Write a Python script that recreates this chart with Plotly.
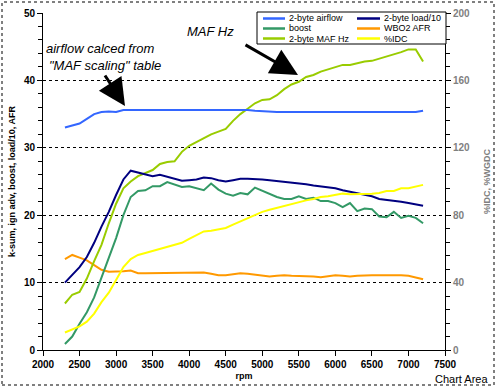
import plotly.graph_objects as go

rpm = [2300, 2400, 2500, 2600, 2700, 2800, 2900, 3000, 3100, 3200,
       3300, 3400, 3500, 3600, 3700, 3800, 3900, 4000, 4100, 4200,
       4300, 4400, 4500, 4600, 4700, 4800, 4900, 5000, 5100, 5200,
       5300, 5400, 5500, 5600, 5700, 5800, 5900, 6000, 6100, 6200,
       6300, 6400, 6500, 6600, 6700, 6800, 6900, 7000, 7100, 7200]

airflow = [33.0, 33.3, 33.6, 34.3, 35.0, 35.3, 35.4, 35.3, 35.6, 35.6,
           35.6, 35.6, 35.6, 35.6, 35.6, 35.6, 35.7, 35.6, 35.6, 35.6,
           35.6, 35.6, 35.6, 35.6, 35.6, 35.6, 35.5, 35.4, 35.3, 35.3,
           35.3, 35.3, 35.3, 35.3, 35.3, 35.3, 35.3, 35.3, 35.3, 35.3,
           35.3, 35.3, 35.3, 35.3, 35.3, 35.3, 35.3, 35.3, 35.3, 35.5]

load10 = [10.0, 11.2, 12.3, 13.8, 15.9, 18.3, 20.5, 23.0, 25.3, 26.6,
          26.3, 26.0, 25.8, 26.0, 25.7, 25.4, 25.1, 25.2, 25.3, 25.6,
          25.5, 25.2, 25.0, 25.2, 25.4, 25.4, 25.4, 25.3, 25.2, 25.1,
          24.9, 24.8, 24.7, 24.6, 24.4, 24.3, 24.2, 24.0, 23.7, 23.5,
          23.3, 23.1, 22.8, 22.4, 22.3, 22.2, 22.0, 21.8, 21.6, 21.4]

boost = [0.9, 2.0, 3.9, 5.6, 7.8, 10.8, 13.8, 16.6, 20.0, 22.7,
         23.6, 23.7, 24.3, 24.3, 24.9, 24.5, 24.2, 24.3, 24.0, 23.7,
         24.7, 23.8, 23.2, 22.9, 23.3, 23.1, 24.1, 23.6, 23.1, 22.7,
         22.4, 22.4, 22.8, 22.4, 22.6, 22.1, 22.1, 21.8, 21.2, 21.8,
         20.6, 21.0, 20.9, 19.8, 19.7, 20.5, 19.6, 19.9, 19.6, 18.8]

maf_hz = [6.9, 8.2, 8.6, 10.6, 13.2, 15.6, 18.8, 21.7, 24.0, 25.0,
          25.8, 26.2, 26.7, 27.6, 27.9, 28.0, 29.4, 30.3, 30.9, 31.4,
          32.0, 32.4, 32.8, 34.0, 35.0, 35.8, 36.6, 37.1, 37.2, 37.8,
          38.7, 39.4, 39.8, 40.5, 40.8, 41.3, 41.6, 42.0, 42.3, 42.3,
          42.6, 42.8, 42.9, 43.2, 43.5, 43.9, 44.2, 44.6, 44.6, 42.8]

wbo2_afr = [13.5, 14.1, 13.7, 13.3, 12.6, 11.9, 11.6, 11.6, 11.7, 11.8,
            11.4, 11.4, 11.4, 11.4, 11.4, 11.5, 11.4, 11.4, 11.5, 11.5,
            11.3, 11.1, 11.1, 11.3, 11.4, 11.3, 11.2, 11.0, 10.9, 11.0,
            11.1, 11.0, 11.0, 11.0, 10.9, 10.8, 11.0, 11.1, 11.0, 10.9,
            11.0, 11.1, 11.1, 11.1, 11.1, 11.2, 11.1, 11.0, 10.8, 10.5]

idc_pct = [10.4, 12.4, 14.0, 16.8, 21.6, 28.4, 34.0, 41.6, 49.2, 54.0,
           56.4, 57.6, 58.8, 60.0, 61.2, 62.4, 63.6, 66.0, 68.0, 70.4,
           70.8, 71.6, 72.4, 74.4, 76.4, 78.0, 80.4, 82.0, 83.2, 84.4,
           85.6, 86.4, 87.6, 88.8, 89.6, 90.8, 91.2, 92.0, 92.8, 92.4,
           92.4, 92.8, 92.8, 93.2, 94.4, 94.4, 96.0, 96.0, 96.8, 98.0]

series = [
    ("2-byte airflow", airflow, "#3366FF", "y"),
    ("boost", boost, "#339966", "y"),
    ("2-byte MAF Hz", maf_hz, "#99CC00", "y"),
    ("2-byte load/10", load10, "#000080", "y"),
    ("WBO2 AFR", wbo2_afr, "#FF9900", "y"),
    ("%IDC", idc_pct, "#FFFF00", "y2"),
]

FONT = "Arial, Liberation Sans, sans-serif"

fig = go.Figure()
draw_order = [4, 5, 2, 1, 3, 0]
for i in draw_order:
    name, vals, col, ax = series[i]
    fig.add_trace(go.Scatter(x=rpm, y=vals, name=name, mode="lines",
                             line=dict(color=col, width=2), yaxis=ax,
                             showlegend=False))

# plot area in pixels: x 43..445, y 13..350
L, R, T, B = 43, 445, 13, 350
W, H = R - L, B - T


def px(x):
    return (x - L) / W


def py(y):
    return (B - y) / H


shapes = []
annotations = []

# chart-area dotted border
shapes.append(dict(type="rect", xref="paper", yref="paper",
                   x0=px(2), x1=px(494), y0=py(385), y1=py(2),
                   line=dict(color="black", width=1, dash="dot")))

# legend box (manual, compact like the original)
shapes.append(dict(type="rect", xref="paper", yref="paper",
                   x0=px(257), x1=px(446), y0=py(44), y1=py(12),
                   fillcolor="white", line=dict(color="black", width=1),
                   layer="above"))
cols = [(263, 285, 287), (357, 380, 382)]
rows = [18.5, 28.5, 38.5]
for k, (name, vals, col, ax) in enumerate(series):
    c = cols[k // 3]
    r = rows[k % 3]
    shapes.append(dict(type="line", xref="paper", yref="paper",
                       x0=px(c[0]), x1=px(c[1]), y0=py(r), y1=py(r),
                       line=dict(color=col, width=2.5), layer="above"))
    annotations.append(dict(xref="paper", yref="paper", x=px(c[2]), y=py(r),
                            text=name, showarrow=False, xanchor="left",
                            yanchor="middle",
                            font=dict(family=FONT, size=9, color="black")))

# notes
annotations.append(dict(xref="paper", yref="paper", x=px(44), y=py(48),
                        text="<i>airflow calced from</i>", showarrow=False,
                        xanchor="left", yanchor="middle",
                        font=dict(family=FONT, size=13, color="black")))
annotations.append(dict(xref="paper", yref="paper", x=px(47), y=py(65),
                        text="<i>\"MAF scaling\" table</i>", showarrow=False,
                        xanchor="left", yanchor="middle",
                        font=dict(family=FONT, size=13, color="black")))
annotations.append(dict(xref="paper", yref="paper", x=px(185), y=py(32),
                        text="<i>MAF Hz</i>", showarrow=False,
                        xanchor="left", yanchor="middle",
                        font=dict(family=FONT, size=13, color="black")))
# arrows
annotations.append(dict(xref="paper", yref="paper", x=px(125), y=py(106),
                        ax=-21, ay=-32, text="", showarrow=True,
                        arrowhead=2, arrowsize=1.8, arrowwidth=3,
                        arrowcolor="black"))
annotations.append(dict(xref="paper", yref="paper", x=px(298), y=py(75),
                        ax=-54, ay=-31, text="", showarrow=True,
                        arrowhead=2, arrowsize=1.8, arrowwidth=3,
                        arrowcolor="black"))
# tooltip text
annotations.append(dict(xref="paper", yref="paper", x=px(490), y=py(379),
                        text="Chart Area", showarrow=False,
                        xanchor="right", yanchor="middle",
                        font=dict(family=FONT, size=11, color="black")))

tickfont = dict(family=FONT, size=10, color="black", weight="bold")
fig.update_layout(
    width=496, height=387,
    margin=dict(l=L, r=496 - R, t=T, b=387 - B, pad=0, autoexpand=False),
    paper_bgcolor="white", plot_bgcolor="white",
    showlegend=False, hovermode=False,
    shapes=shapes, annotations=annotations,
    xaxis=dict(range=[2000, 7500], dtick=500, tick0=2000, automargin=False,
               showline=True, linecolor="black", linewidth=1,
               ticks="outside", ticklen=5, tickcolor="black",
               showgrid=False, zeroline=False, tickfont=tickfont,
               title=dict(text="rpm", standoff=3,
                          font=dict(family=FONT, size=9, color="black",
                                    weight="bold"))),
    yaxis=dict(range=[0, 50], dtick=10, tick0=0, automargin=False,
               showline=True, linecolor="black", linewidth=1,
               ticks="outside", ticklen=5, tickcolor="black",
               minor=dict(dtick=2, ticks="outside", ticklen=4,
                          tickcolor="black", showgrid=False),
               showgrid=True, gridcolor="black", griddash="dot",
               gridwidth=1, zeroline=False, tickfont=tickfont,
               title=dict(text="k-sum, ign adv, boost, load/10, AFR",
                          standoff=6,
                          font=dict(family=FONT, size=9, color="black",
                                    weight="bold"))),
    yaxis2=dict(range=[0, 200], dtick=40, tick0=0, overlaying="y",
                automargin=False,
                side="right", showline=True, linecolor="black", linewidth=1,
                ticks="outside", ticklen=5, tickcolor="black",
                minor=dict(dtick=8, ticks="outside", ticklen=4,
                           tickcolor="black", showgrid=False),
                showgrid=False, zeroline=False,
                tickfont=dict(family=FONT, size=10, color="#808080",
                              weight="bold"),
                title=dict(text="%IDC, %WGDC", standoff=14,
                           font=dict(family=FONT, size=9, color="#808080",
                                     weight="bold"))),
)

fig.write_html("out.html",
               config={"displayModeBar": False, "staticPlot": True},
               post_script="document.body.style.margin='0px';"
                           "document.body.style.overflow='hidden';")
